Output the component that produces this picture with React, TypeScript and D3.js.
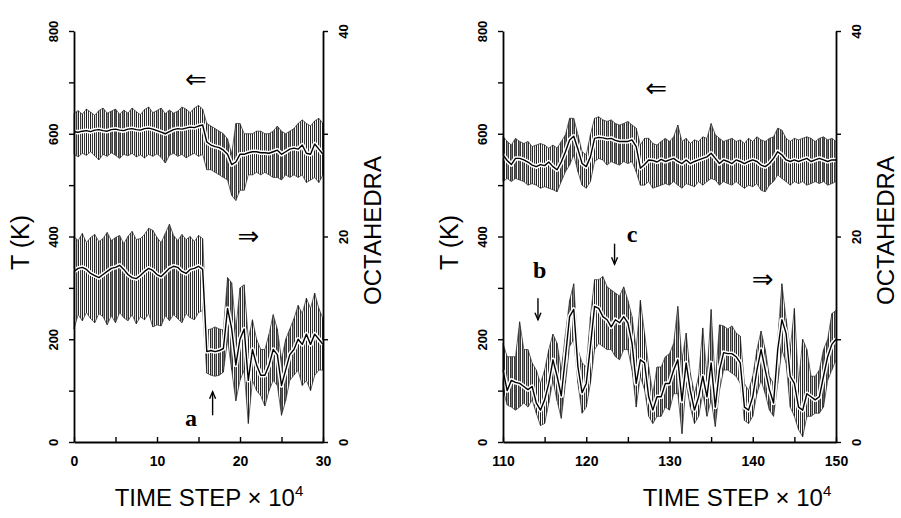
import React, { useEffect, useRef } from 'react';
import * as d3 from 'd3';

const STEP = 0.5;

// left run, t = 0 .. 30
const leftTempHi = [
  640, 645, 638, 648, 642, 636, 645, 650, 640, 644, 648, 638, 646, 640, 650, 643, 637, 647, 652, 641,
  645, 650, 639, 646, 640, 644, 652, 648, 641, 650, 655, 648,
  620, 615, 610, 605, 600, 590, 560, 620, 620, 600, 600, 600, 605, 605, 600, 600, 605, 615, 605, 600,
  605, 610, 620, 627, 620, 615, 625, 630, 620,
];
const leftTempLo = [
  560, 555, 562, 558, 565, 557, 549, 560, 556, 563, 558, 552, 560, 557, 562, 555, 559, 553, 560, 556,
  561, 554, 543, 558, 562, 556, 560, 553, 558, 562, 556, 560,
  530, 530, 525, 520, 515, 510, 480, 470, 490, 490, 520, 520, 525, 520, 525, 520, 515, 515, 510, 520,
  515, 520, 515, 520, 505, 510, 515, 505, 520,
];
const leftTempMean = [
  604, 603, 605, 606, 604, 607, 608, 606, 605, 608, 609, 607, 606, 609, 610, 608, 607, 610, 611, 609,
  606, 603, 600, 604, 608, 610, 609, 611, 613, 612, 615, 617,
  584, 578, 575, 573, 568, 560, 540, 545, 560, 560, 563, 565, 565, 563, 563, 562, 565, 568, 560, 565,
  570, 572, 570, 578, 562, 560, 580, 570, 560,
];
const leftOctHi = [
  20.0, 19.6, 20.3, 19.4, 19.9, 20.2, 19.5, 19.8, 20.4, 19.6, 19.9, 20.1, 19.3, 20.0, 20.5, 19.7, 19.8, 20.2, 20.8, 20.6,
  19.9, 19.4, 20.3, 21.2, 20.1, 19.6, 20.2, 19.7, 20.0, 19.5, 20.1, 19.8,
  10.9, 11.0, 11.2, 11.0, 10.9, 16.0, 15.5, 11.0, 15.0, 15.3, 10.0, 11.9, 10.0, 9.0, 9.0, 10.5, 12.4, 11.0, 8.0, 10.0,
  11.0, 12.0, 13.3, 12.5, 14.0, 13.0, 14.5, 13.0, 12.0,
];
const leftOctLo = [
  11.0, 12.4, 11.8, 12.6, 12.0, 11.6, 12.5, 12.2, 11.4, 12.3, 11.6, 12.6, 12.1, 11.8, 12.4, 11.5, 12.2, 11.9, 12.5, 11.2,
  11.4, 11.3, 12.3, 11.8, 12.4, 12.0, 11.6, 12.5, 12.1, 11.9, 12.6, 12.8,
  6.7, 6.5, 6.4, 6.5, 6.8, 10.0, 7.0, 4.0, 6.0, 7.0, 1.8, 6.0, 5.0, 4.5, 3.5, 5.0, 6.0, 5.5, 2.6, 4.0,
  6.0, 6.5, 7.0, 5.5, 6.0, 5.0, 6.5, 7.0, 7.0,
];
const leftOctMean = [
  16.6, 16.9, 17.0, 16.8, 16.4, 16.2, 16.0, 16.3, 16.6, 16.9, 17.0, 17.2, 16.8, 16.3, 16.0, 15.9, 16.2, 16.6, 16.9, 16.7,
  16.3, 16.1, 16.5, 16.9, 17.1, 17.0, 16.6, 16.4, 16.8, 16.9, 17.1, 16.8,
  8.8, 8.9, 8.8, 8.9, 9.1, 13.0, 11.0, 7.5, 10.0, 11.0, 6.0, 9.0, 7.5, 6.5, 6.5, 7.5, 9.0, 8.5, 5.5, 7.0,
  8.5, 9.0, 10.0, 9.5, 10.5, 9.5, 10.5, 10.0, 9.5,
];

// right run, t = 110 .. 150
const rightTempHi = [
  595, 585, 578, 591, 585, 581, 585, 575, 578, 581, 578, 572, 578, 572, 585, 598, 630, 630, 598, 565,
  559, 598, 630, 633, 627, 624, 627, 620, 617, 620, 624, 617, 611, 578, 591, 591, 581, 578, 585, 591,
  585, 594, 617, 585, 591, 581, 588, 585, 594, 591, 620, 598, 591, 585, 588, 591, 585, 588, 581, 591,
  585, 594, 588, 585, 591, 594, 611, 607, 591, 585, 591, 588, 591, 594, 591, 585, 591, 594, 588, 591,
  585,
];
const rightTempLo = [
  507, 513, 507, 513, 510, 507, 500, 503, 500, 494, 497, 494, 491, 487, 507, 526, 539, 559, 526, 500,
  494, 507, 546, 552, 549, 539, 546, 542, 539, 546, 542, 546, 526, 500, 500, 507, 494, 497, 500, 503,
  500, 507, 500, 494, 503, 500, 497, 507, 500, 507, 513, 510, 500, 507, 503, 500, 507, 500, 494, 500,
  497, 503, 490, 487, 500, 507, 520, 513, 507, 500, 507, 503, 507, 500, 503, 507, 503, 507, 500, 503,
  507,
];
const rightTempMean = [
  559, 548, 540, 552, 552, 549, 545, 539, 536, 540, 538, 545, 536, 530, 545, 565, 588, 595, 570, 542,
  536, 555, 591, 593, 592, 590, 591, 587, 585, 585, 585, 588, 575, 533, 540, 549, 548, 545, 550, 546,
  549, 552, 546, 542, 549, 542, 546, 549, 552, 555, 562, 552, 542, 549, 546, 542, 549, 546, 542, 546,
  549, 546, 539, 536, 542, 552, 565, 559, 549, 546, 549, 546, 549, 552, 546, 549, 552, 549, 546, 549,
  549,
];
const rightOctHi = [
  9.6, 8.3, 8.3, 8.3, 11.7, 9.0, 9.0, 7.7, 7.0, 5.7, 7.0, 9.0, 10.5, 9.6, 7.0, 10.5, 13.8, 15.4, 9.0, 7.7,
  7.3, 12.2, 15.8, 15.8, 16.1, 15.1, 14.8, 14.5, 14.2, 15.1, 13.8, 12.2, 9.0, 13.8, 10.6, 7.3, 4.7, 7.3, 7.3, 8.3,
  8.6, 9.6, 13.2, 8.0, 10.6, 6.7, 4.7, 6.4, 11.1, 6.4, 12.9, 5.7, 11.4, 11.3, 11.0, 11.3, 10.6, 10.3, 5.7, 5.0,
  6.4, 9.0, 10.8, 9.0, 6.4, 5.7, 10.0, 15.4, 12.0, 9.0, 13.0, 5.7, 10.0, 9.0, 6.4, 6.4, 7.0, 9.0, 10.0, 12.5,
  12.8,
];
const rightOctLo = [
  5.1, 3.6, 3.4, 3.1, 3.4, 3.8, 3.4, 4.1, 2.8, 1.6, 1.8, 3.8, 6.0, 4.0, 2.3, 5.7, 9.3, 10.0, 5.7, 2.8,
  3.4, 5.7, 9.0, 9.6, 9.3, 9.0, 9.0, 8.3, 8.0, 9.0, 9.0, 7.0, 3.4, 6.4, 5.1, 2.5, 1.8, 2.5, 2.5, 3.4,
  3.1, 4.7, 4.7, 0.8, 5.7, 3.4, 1.8, 2.5, 4.7, 2.5, 4.1, 1.5, 5.0, 7.0, 7.0, 6.7, 6.4, 5.7, 2.1, 1.8,
  2.5, 4.7, 6.0, 4.7, 3.1, 2.5, 5.7, 9.0, 7.7, 3.4, 2.5, 1.2, 0.5, 2.5, 2.5, 2.8, 2.8, 3.4, 6.0, 7.0,
  8.0,
];
const rightOctMean = [
  7.0, 5.0, 6.0, 5.8, 5.7, 5.4, 5.1, 5.4, 3.8, 3.1, 4.1, 5.7, 8.0, 6.4, 4.5, 8.3, 12.2, 12.9, 7.3, 4.8,
  5.7, 9.3, 13.2, 13.0, 12.2, 11.9, 11.2, 11.9, 11.6, 12.2, 11.6, 9.6, 5.7, 8.0, 7.7, 4.4, 3.1, 4.4, 4.4, 5.7,
  5.7, 7.0, 8.0, 4.0, 7.7, 5.0, 3.1, 4.4, 6.4, 4.4, 7.7, 3.4, 7.0, 8.7, 8.6, 8.6, 8.3, 7.7, 3.4, 3.1,
  4.4, 7.0, 9.0, 7.0, 5.1, 3.8, 9.0, 11.9, 10.6, 6.4, 5.7, 3.4, 3.1, 4.7, 4.4, 4.1, 4.4, 6.4, 8.3, 9.5,
  10.0,
];

// axis ticks
const tempTicks = [0, 100, 200, 300, 400, 500, 600, 700, 800];
const tempLabels = [0, 200, 400, 600, 800];
const octTicks = [0, 10, 20, 30, 40];
const octLabels = [0, 20, 40];
const leftTimeTicks = [0, 5, 10, 15, 20, 25, 30];
const rightTimeTicks = [110, 115, 120, 125, 130, 135, 140, 145, 150];

// annotations, in data units
const bigArrows = [
  { panel: 0, t: 14.7, value: 707, scale: 'temp', glyph: '\u21D0' },
  { panel: 0, t: 21.0, value: 20.1, scale: 'oct', glyph: '\u21D2' },
  { panel: 1, t: 128.4, value: 689, scale: 'temp', glyph: '\u21D0' },
  { panel: 1, t: 141.2, value: 15.9, scale: 'oct', glyph: '\u21D2' },
];
const events = [
  { panel: 0, label: 'a', labelT: 14.1, labelV: 1.6, arrowT: 16.7, from: 2.6, to: 4.9 },
  { panel: 1, label: 'b', labelT: 114.4, labelV: 16.0, arrowT: 114.2, from: 14.0, to: 11.9 },
  { panel: 1, label: 'c', labelT: 125.5, labelV: 19.5, arrowT: 123.4, from: 19.3, to: 17.3 },
];

const panels = [
  {
    start: 0, end: 30, left: 74, right: 323, ticks: leftTimeTicks, title: 209,
    temp: [leftTempHi, leftTempLo, leftTempMean], oct: [leftOctHi, leftOctLo, leftOctMean],
  },
  {
    start: 110, end: 150, left: 503, right: 836, ticks: rightTimeTicks, title: 737,
    temp: [rightTempHi, rightTempLo, rightTempMean], oct: [rightOctHi, rightOctLo, rightOctMean],
  },
];

const SANS = '"Liberation Sans", Arial, sans-serif';
const TOP = 31;
const BOTTOM = 442;

function App() {
  const svgRef = useRef<SVGSVGElement>(null);

  useEffect(() => {
    if (!svgRef.current) return;
    const svg = d3.select(svgRef.current);
    svg.selectAll('*').remove();

    svg.append('rect').attr('width', 901).attr('height', 518).attr('fill', '#fff');

    // fine vertical hatching, like the dense plotter strokes of the raw trace
    svg.append('defs').append('pattern')
      .attr('id', 'hatch')
      .attr('patternUnits', 'userSpaceOnUse')
      .attr('width', 2)
      .attr('height', 8)
      .append('rect')
      .attr('width', 1)
      .attr('height', 8)
      .attr('fill', '#3a3a3a');

    const yTemp = d3.scaleLinear().domain([0, 800]).range([BOTTOM, TOP]);
    const yOct = d3.scaleLinear().domain([0, 40]).range([BOTTOM, TOP]);

    panels.forEach((p, pi) => {
      const x = d3.scaleLinear().domain([p.start, p.end]).range([p.left, p.right]);
      const g = svg.append('g');

      const band = (series: number[][], y: d3.ScaleLinear<number, number>) => {
        const [hi, lo, mean] = series;
        const rows = hi.map((h, i) => ({ t: p.start + i * STEP, hi: h, lo: lo[i], mean: mean[i] }));

        g.append('path').datum(rows)
          .attr('d', d3.area<any>().x(d => x(d.t)).y0(d => y(d.lo)).y1(d => y(d.hi)))
          .attr('fill', 'url(#hatch)');

        ['hi', 'lo'].forEach(k => {
          g.append('path').datum(rows)
            .attr('d', d3.line<any>().x(d => x(d.t)).y(d => y(d[k])))
            .attr('fill', 'none')
            .attr('stroke', '#2a2a2a')
            .attr('stroke-width', 0.7);
        });

        g.selectAll(null).data(rows).join('line')
          .attr('x1', d => x(d.t)).attr('x2', d => x(d.t))
          .attr('y1', d => y(d.lo)).attr('y2', d => y(d.hi))
          .attr('stroke', '#111')
          .attr('stroke-width', 0.7);

        const meanLine = d3.line<any>().x(d => x(d.t)).y(d => y(d.mean));
        g.append('path').datum(rows).attr('d', meanLine)
          .attr('fill', 'none').attr('stroke', '#fff').attr('stroke-width', 4.5)
          .attr('stroke-linejoin', 'round');
        g.append('path').datum(rows).attr('d', meanLine)
          .attr('fill', 'none').attr('stroke', '#000').attr('stroke-width', 1.4)
          .attr('stroke-linejoin', 'round');
      };

      band(p.temp, yTemp);
      band(p.oct, yOct);

      // left temperature axis
      const la = g.append('g').attr('transform', `translate(${p.left},0)`)
        .call(d3.axisLeft(yTemp).tickValues(tempTicks).tickSize(5).tickSizeOuter(0)
          .tickFormat(d => (tempLabels.includes(+d) ? String(d) : '')));
      la.selectAll('text')
        .attr('transform', 'rotate(-90)')
        .attr('x', 0).attr('y', -16).attr('dy', 0)
        .attr('text-anchor', 'middle');

      // right octahedra axis
      const ra = g.append('g').attr('transform', `translate(${p.right},0)`)
        .call(d3.axisRight(yOct).tickValues(octTicks).tickSize(5).tickSizeOuter(0)
          .tickFormat(d => (octLabels.includes(+d) ? String(d) : '')));
      ra.selectAll('text')
        .attr('transform', 'rotate(-90)')
        .attr('x', 0).attr('y', 25).attr('dy', 0)
        .attr('text-anchor', 'middle');

      // time axis
      const ba = g.append('g').attr('transform', `translate(0,${BOTTOM})`)
        .call(d3.axisBottom(x).tickValues(p.ticks).tickSize(-5).tickSizeOuter(0)
          .tickFormat(d => (+d % 10 === 0 ? String(d) : '')));
      ba.selectAll('text').attr('y', 14).attr('dy', '0.71em');

      [la, ra, ba].forEach(a => {
        a.attr('font-family', SANS).attr('font-size', null);
        a.selectAll('path.domain').attr('stroke-width', 1.8);
        a.selectAll('line').attr('stroke-width', 1.4);
        a.selectAll('text').attr('font-size', 14).attr('font-weight', 'bold').attr('fill', '#000');
      });
      la.selectAll('text').attr('font-size', 13);
      ra.selectAll('text').attr('font-size', 13);

      // axis titles
      g.append('text')
        .attr('transform', `translate(${p.left - 45},${(TOP + BOTTOM) / 2 + 6}) rotate(-90)`)
        .attr('text-anchor', 'middle')
        .attr('font-family', SANS).attr('font-size', 25)
        .text('T (K)');
      g.append('text')
        .attr('transform', `translate(${p.right + 58},${(TOP + BOTTOM) / 2 - 6}) rotate(-90)`)
        .attr('text-anchor', 'middle')
        .attr('font-family', SANS).attr('font-size', 24)
        .text('OCTAHEDRA');
      const tt = g.append('text')
        .attr('x', p.title).attr('y', 506)
        .attr('text-anchor', 'middle')
        .attr('font-family', SANS).attr('font-size', 24);
      tt.append('tspan').text('TIME STEP \u00D7 10');
      tt.append('tspan').attr('font-size', 15).attr('dy', -10).text('4');

      // annotations
      bigArrows.filter(a => a.panel === pi).forEach(a => {
        const y = a.scale === 'temp' ? yTemp : yOct;
        g.append('text')
          .attr('x', x(a.t)).attr('y', y(a.value)).attr('dy', '0.35em')
          .attr('text-anchor', 'middle')
          .attr('font-family', '"DejaVu Sans", sans-serif').attr('font-size', 26)
          .text(a.glyph);
      });
      events.filter(e => e.panel === pi).forEach(e => {
        g.append('text')
          .attr('x', x(e.labelT)).attr('y', yOct(e.labelV))
          .attr('text-anchor', 'middle')
          .attr('font-family', '"Liberation Serif", "Times New Roman", serif')
          .attr('font-weight', 'bold').attr('font-size', 24)
          .text(e.label);
        const ax = x(e.arrowT);
        const y0 = yOct(e.from);
        const y1 = yOct(e.to);
        const dir = y1 < y0 ? 1 : -1;
        g.append('line')
          .attr('x1', ax).attr('x2', ax).attr('y1', y0).attr('y2', y1)
          .attr('stroke', '#000').attr('stroke-width', 1.4);
        g.append('path')
          .attr('d', `M${ax - 3},${y1 + dir * 7}L${ax},${y1}L${ax + 3},${y1 + dir * 7}`)
          .attr('fill', 'none').attr('stroke', '#000').attr('stroke-width', 1.4);
      });
    });
  }, []);

  return (
    <svg ref={svgRef} width={901} height={518}
      style={{ position: 'absolute', left: 0, top: 0, background: '#fff' }} />
  );
}

export default App;
